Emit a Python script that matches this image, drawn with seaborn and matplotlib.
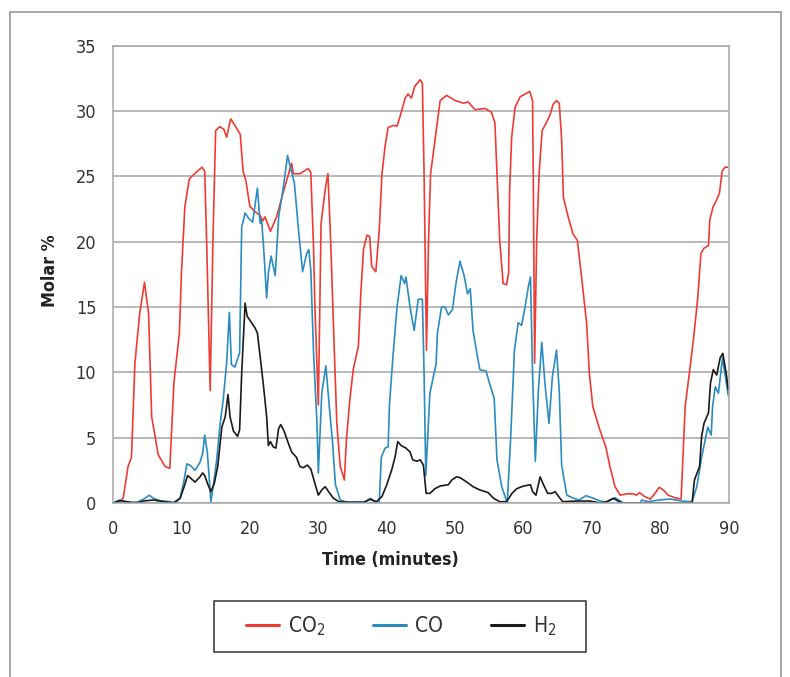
import pandas as pd
import matplotlib
matplotlib.use("Agg")
import matplotlib.pyplot as plt
import seaborn as sns
from matplotlib import font_manager
from matplotlib.patches import Rectangle
from matplotlib.lines import Line2D

# values (minutes, molar %)
co2_t = [0, 1.0, 1.5, 2.2, 2.7, 3.2, 3.9, 4.6, 5.2, 5.65, 6.6, 7.6, 8.3, 8.9, 9.7, 10.0, 10.5, 11.15, 11.7,
         13.0, 13.4, 13.7, 14.2, 14.6, 15.0, 15.6, 16.2, 16.6, 17.2, 17.8, 18.6, 19.0, 19.4, 20.0, 20.75,
         21.5, 21.9, 22.2, 23.0, 23.9, 25.1, 26.1, 26.35, 27.3, 28.5, 28.9, 29.3, 29.5, 30.0, 30.4, 31.0,
         31.4, 31.8, 32.2, 32.7, 33.2, 33.8, 34.1, 34.6, 35.1, 35.85, 36.2, 36.6, 37.1, 37.5, 37.8, 38.4,
         38.9, 39.3, 39.75, 40.2, 41.0, 41.5, 41.95, 42.7, 43.1, 43.6, 44.1, 44.9, 45.2, 45.45, 45.8, 46.1,
         46.4, 47.05, 47.8, 48.75, 50.0, 51.2, 51.9, 52.9, 54.35, 55.3, 55.8, 56.2, 56.5, 57.0, 57.5, 57.8,
         57.95, 58.25, 58.75, 59.5, 60.9, 61.3, 61.4, 61.6, 61.9, 62.25, 62.7, 63.4, 63.85, 64.3, 64.8,
         65.2, 65.55, 65.8, 66.5, 67.2, 67.85, 68.5, 69.2, 69.6, 70.1, 71.0, 72.0, 72.6, 73.35, 74.1, 75.05,
         76.0, 76.5, 76.9, 77.65, 78.5, 79.2, 79.8, 80.4, 81.1, 82.1, 83.0, 83.6, 84.2, 84.8, 85.4, 85.9,
         86.35, 87.0, 87.2, 87.7, 88.2, 88.6, 89.0, 89.4, 89.8]
co2_v = [0, 0.1, 0.4, 2.8, 3.5, 10.7, 14.5, 16.9, 14.5, 6.6, 3.7, 2.8, 2.65, 9.2, 13.0, 17.6, 22.7, 24.8, 25.1,
         25.7, 25.4, 19.6, 8.6, 20.1, 28.5, 28.8, 28.6, 28.0, 29.4, 28.9, 28.2, 25.4, 24.7, 22.7, 22.3,
         22.0, 21.6, 21.9, 20.8, 21.9, 24.2, 26.0, 25.2, 25.2, 25.6, 25.3, 19.6, 15.0, 7.5, 21.4, 24.0,
         25.2, 20.1, 13.75, 6.1, 2.8, 1.76, 4.8, 7.9, 10.2, 12.0, 16.0, 19.4, 20.5, 20.4, 18.1, 17.7,
         20.9, 25.2, 27.3, 28.75, 28.9, 28.85, 29.6, 31.0, 31.3, 31.0, 31.9, 32.4, 32.1, 25.2, 11.7, 20.1,
         25.2, 27.8, 30.8, 31.2, 30.8, 30.6, 30.7, 30.1, 30.2, 29.9, 29.1, 24.0, 20.1, 16.8, 16.7, 17.6,
         24.0, 28.0, 30.3, 31.1, 31.5, 30.8, 25.2, 10.7, 20.1, 25.2, 28.5, 29.2, 29.7, 30.5, 30.8,
         30.6, 27.8, 23.4, 21.9, 20.6, 20.1, 17.1, 13.75, 9.9, 7.4, 5.8, 4.3, 2.8, 1.25, 0.6, 0.7,
         0.7, 0.6, 0.8, 0.5, 0.3, 0.75, 1.2, 1.0, 0.6, 0.4, 0.3, 7.4, 9.9, 12.5, 15.5, 19.1,
         19.5, 19.7, 21.7, 22.7, 23.2, 23.7, 25.4, 25.7, 25.7]

co_t = [0, 1.0, 2.5, 3.7, 4.7, 5.3, 5.9, 6.9, 8.3, 9.1, 9.8, 10.3, 10.8, 11.35, 11.98, 12.7, 13.1, 13.4, 13.8,
        14.3, 14.7, 15.15, 15.6, 16.1, 16.6, 17.0, 17.3, 17.8, 18.5, 18.8, 19.3, 19.8, 20.4, 21.1, 21.5,
        21.7, 22.0, 22.45, 22.7, 23.1, 23.7, 24.2, 24.9, 25.5, 26.0, 26.5, 27.1, 27.7, 28.3, 28.6, 28.9,
        29.3, 29.8, 30.0, 30.5, 31.1, 31.6, 32.05, 32.5, 33.2, 34.1, 35.6, 36.8, 37.6, 38.3, 38.9, 39.2,
        39.75, 40.2, 40.4, 40.9, 41.5, 42.1, 42.6, 42.8, 43.4, 44.0, 44.6, 45.2, 45.45, 45.7, 46.3, 46.9,
        47.2, 47.4, 48.0, 48.5, 49.0, 49.6, 50.0, 50.2, 50.7, 51.3, 51.8, 52.2, 52.6, 53.15, 53.6, 54.5,
        55.1, 55.7, 56.1, 56.8, 57.6, 58.1, 58.65, 59.2, 59.7, 60.2, 60.7, 61.0, 61.3, 61.7, 62.15, 62.65,
        63.1, 63.7, 64.2, 64.8, 65.2, 65.55, 66.3, 67.3, 68.1, 69.1, 70.2, 71.2, 72.1, 73.35, 74.6, 77.0,
        77.25, 78.2, 79.7, 81.4, 83.1, 84.6, 85.3, 86.0, 86.9, 87.4, 87.6, 88.0, 88.45, 89.05, 89.4, 89.9]
co_v = [0, 0.23, 0, 0.1, 0.36, 0.6, 0.36, 0.18, 0.1, 0, 0.36, 1.5, 3.0, 2.86, 2.5, 3.1, 3.8, 5.2, 3.8,
        0.1, 1.5, 3.3, 5.8, 7.9, 10.7, 14.6, 10.6, 10.4, 11.5, 21.1, 22.2, 21.8, 21.5, 24.1, 21.4,
        21.7, 19.6, 15.7, 17.6, 18.9, 17.4, 21.9, 24.2, 26.6, 25.5, 24.5, 20.9, 17.7, 19.1, 19.4, 17.8,
        11.5, 6.1, 2.3, 8.4, 10.5, 7.4, 4.8, 1.4, 0.23, 0.08, 0.08, 0.08, 0.36, 0.08, 0.05, 3.5,
        4.2, 4.3, 7.6, 11.2, 15.0, 17.4, 16.8, 17.3, 15.0, 13.2, 15.6, 15.6, 9.9, 2.1, 8.4, 9.9,
        10.6, 13.0, 15.0, 15.0, 14.4, 14.8, 16.4, 17.1, 18.5, 17.4, 16.0, 16.4, 13.2, 11.5, 10.2, 10.1,
        9.0, 8.0, 3.3, 1.25, 0, 5.0, 11.7, 13.8, 13.6, 15.0, 16.6, 17.3, 9.9, 3.2, 8.6, 12.3,
        9.2, 6.1, 9.7, 11.7, 8.6, 2.9, 0.6, 0.36, 0.23, 0.56, 0.36, 0.15, 0.05, 0.4, 0, 0,
        0.23, 0.1, 0.23, 0.3, 0.15, 0.1, 1.25, 3.5, 5.8, 5.2, 7.4, 8.9, 8.4, 11.1, 9.9, 8.2]

h2_t = [0, 1.0, 2.0, 3.5, 4.4, 5.9, 7.4, 8.8, 9.8, 10.3, 10.9, 11.35, 11.98, 12.7, 13.1, 13.4, 13.8, 14.3,
        14.8, 15.3, 15.9, 16.4, 16.8, 17.1, 17.6, 18.2, 18.5, 18.8, 19.3, 19.6, 20.3, 20.75, 21.1, 21.5,
        22.0, 22.45, 22.7, 23.0, 23.4, 23.8, 24.2, 24.5, 25.0, 25.6, 26.1, 26.8, 27.3, 27.8, 28.4, 28.9,
        29.5, 30.0, 30.5, 31.0, 31.5, 32.2, 33.0, 34.6, 36.6, 37.6, 38.5, 39.3, 40.0, 40.7, 41.2, 41.6,
        42.1, 42.8, 43.4, 43.8, 44.4, 44.9, 45.35, 45.75, 46.3, 47.05, 47.8, 49.0, 49.5, 50.2, 50.7, 51.7,
        52.6, 53.6, 54.8, 55.6, 56.5, 57.5, 58.3, 59.0, 60.0, 61.0, 61.3, 61.8, 62.4, 62.9, 63.5, 64.1,
        64.6, 65.1, 65.7, 67.8, 69.7, 71.2, 72.1, 73.1, 74.3, 84.6, 84.95, 85.7, 86.0, 86.35, 87.0, 87.3,
        87.7, 88.2, 88.7, 89.1, 89.6, 89.9]
h2_v = [0, 0.18, 0.1, 0, 0.15, 0.23, 0.1, 0, 0.36, 1.1, 2.1, 1.9, 1.6, 2.0, 2.3, 2.1, 1.5, 0.87,
        1.5, 2.8, 5.8, 6.6, 8.3, 6.6, 5.5, 5.1, 5.6, 9.9, 15.3, 14.3, 13.75, 13.4, 13.0, 11.2,
        8.9, 6.6, 4.4, 4.7, 4.3, 4.2, 5.7, 6.0, 5.5, 4.6, 3.9, 3.5, 2.8, 2.7, 2.9, 2.6,
        1.5, 0.6, 1.0, 1.25, 0.87, 0.36, 0.1, 0.05, 0.05, 0.28, 0.1, 0.5, 1.4, 2.5, 3.5, 4.7,
        4.4, 4.2, 3.9, 3.3, 3.2, 3.3, 2.9, 0.74, 0.74, 1.1, 1.3, 1.4, 1.76, 2.0, 1.94, 1.6,
        1.25, 1.0, 0.8, 0.36, 0.1, 0.1, 0.74, 1.1, 1.3, 1.4, 0.87, 0.6, 2.0, 1.4, 0.74, 0.74,
        0.87, 0.5, 0.1, 0.15, 0.15, 0, 0.1, 0.36, 0, 0, 1.76, 2.8, 5.1, 6.1, 6.9, 9.2,
        10.2, 9.8, 11.1, 11.45, 9.9, 8.65]

labels = ["CO$_2$", "CO", "H$_2$"]
colors = ["#ee3b33", "#2b8cc0", "#1a1a1a"]
x_ticks = [0, 10, 20, 30, 40, 50, 60, 70, 80, 90]
y_ticks = [0, 5, 10, 15, 20, 25, 30, 35]

df = pd.concat([
    pd.DataFrame({"time": co2_t, "molar": co2_v, "gas": labels[0]}),
    pd.DataFrame({"time": co_t, "molar": co_v, "gas": labels[1]}),
    pd.DataFrame({"time": h2_t, "molar": h2_v, "gas": labels[2]}),
], ignore_index=True)

sns.set_style("white")
# a narrow face if one is installed, otherwise condensed DejaVu
names = {f.name for f in font_manager.fontManager.ttflist}
narrow = "Liberation Sans Narrow" in names
plt.rcParams["font.family"] = ["Liberation Sans Narrow", "DejaVu Sans"] if narrow else ["DejaVu Sans"]
plt.rcParams["font.stretch"] = "condensed"
plt.rcParams["mathtext.default"] = "regular"
fs_tick = 14 if narrow else 13
fs_leg = 16 if narrow else 15
fs_lab = 14 if narrow else 12.8

fig = plt.figure(figsize=(7.9, 6.77), dpi=100)
ax = fig.add_axes([113 / 790, 1 - 503 / 677, 616 / 790, 457.3 / 677])

sns.lineplot(data=df, x="time", y="molar", hue="gas", palette=dict(zip(labels, colors)),
             estimator=None, sort=False, linewidth=1.2, legend=False, ax=ax)

ax.set_xlim(0, 90)
ax.set_ylim(0, 35)
ax.set_xticks(x_ticks)
ax.set_yticks(y_ticks)
ax.yaxis.grid(True, color="#a6a6a6", linewidth=1.1)
ax.xaxis.grid(False)
for s in ax.spines.values():
    s.set_color("#a6a6a6")
    s.set_linewidth(1.1)
ax.tick_params(length=0, pad=12, labelsize=fs_tick, labelcolor="#333333")

ax.set_xlabel("Time (minutes)", fontsize=fs_lab, fontweight="bold", color="#222222")
ax.set_ylabel("Molar %", fontsize=fs_lab, fontweight="bold", color="#222222")
ax.xaxis.set_label_coords((390 - 113) / 616, (503 - 560) / 457.3)
ax.yaxis.set_label_coords((50 - 113) / 616, (503 - 271) / 457.3)
ax.xaxis.label.set_va("center")
ax.yaxis.label.set_va("center")

# outer frame of the figure panel (open at the bottom)
fig.add_artist(Rectangle((10 / 790, -0.05), 771 / 790, 0.05 + 1 - 12 / 677, transform=fig.transFigure,
                         fill=False, edgecolor="#a6a6a6", linewidth=1.4, clip_on=False))

# legend with its own box
handles = [Line2D([], [], color=c, linewidth=2.2) for c in colors]
fig.legend(handles, labels, loc="center", bbox_to_anchor=(401 / 790, 1 - 626 / 677), ncol=3,
           frameon=False, fontsize=fs_leg, handlelength=33 / (fs_leg * 1.389),
           handletextpad=9 / (fs_leg * 1.389), columnspacing=48 / (fs_leg * 1.389),
           labelcolor="#333333")
fig.add_artist(Rectangle((214 / 790, 1 - 652 / 677), 372 / 790, 51 / 677, transform=fig.transFigure,
                         fill=False, edgecolor="#333333", linewidth=1.1))

fig.savefig("out.png", dpi=100)
